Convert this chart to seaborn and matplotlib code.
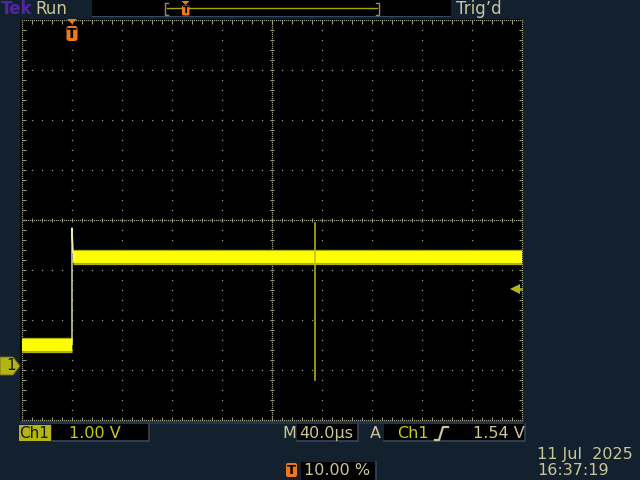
import matplotlib
matplotlib.use("Agg")
import matplotlib.pyplot as plt
import seaborn as sns
import pandas as pd
from matplotlib.transforms import Affine2D, blended_transform_factory
from matplotlib.patches import Polygon, Rectangle, FancyBboxPatch
from matplotlib.lines import Line2D

# ---------------- data ----------------
us_per_div = 40.0          # M 40.0 µs
volts_per_div = 1.0        # Ch1 1.00 V
trig_pos_pct = 10.0        # T 10.00 %
trig_level_v = 1.54        # A Ch1 1.54 V
ground_div_from_bottom = 1.08

# plateau (noisy band) segments
band_seg = ["low", "low", "high", "high"]
band_time_us = [-40.0, 0.0, 0.8, 360.0]
band_volts = [0.43, 0.43, 2.19, 2.19]

# thin transitions: rising edge and glitch
edge_seg = ["edge", "edge", "edge", "edge"]
edge_time_us = [0.0, 0.0, 0.8, 2.0]
edge_volts = [0.43, 2.76, 2.30, 2.19]

glitch_seg = ["glitch", "glitch"]
glitch_time_us = [194.0, 194.0]
glitch_volts = [2.86, -0.28]

ch_label = "Ch1"
ch_scale = "1.00 V"
timebase = "40.0µs"
trig_src = "Ch1"
trig_lvl_txt = "1.54 V"
trig_pos_txt = "10.00 %"
date_txt = "11 Jul  2025"
time_txt = "16:37:19"

# ---------------- colours ----------------
BG = "#13202E"
KHAKI = "#CBC698"
OLIVE = "#B4B414"
YEL_TXT = "#C8C81E"
ORANGE = "#F07818"
GRID = "#9A9A80"
TRACE = "#FFFF00"

fig = plt.figure(figsize=(6.4, 4.8), dpi=100, facecolor=BG)
pix = Affine2D().scale(1 / 640, -1 / 480).translate(0, 1) + fig.transFigure

# graticule black background
fig.patches.append(Rectangle((20, 19), 503, 402, transform=pix, facecolor="black",
                             edgecolor="none", zorder=-2))
fig.patches.append(Rectangle((20, 421), 503, 3, transform=pix, facecolor="#243446",
                             edgecolor="none", zorder=-2))

ax = fig.add_axes([22 / 640, 60 / 480, 500 / 640, 400 / 480])
ax.set_zorder(1)
ax.patch.set_visible(False)
t0 = -trig_pos_pct / 100 * 10 * us_per_div
xmin, xmax = t0, t0 + 10 * us_per_div
ymin = -ground_div_from_bottom * volts_per_div
ymax = ymin + 8 * volts_per_div


def dx(d):
    return xmin + d * us_per_div


def dy(d):
    return ymin + d * volts_per_div


# ---- graticule dots ----
gx, gy = [], []
for i in range(1, 10):
    if i == 5:
        continue
    for k in range(1, 40):
        gx.append(dx(i)); gy.append(dy(k * 0.2))
for j in range(1, 8):
    if j == 4:
        continue
    for k in range(1, 50):
        gx.append(dx(k * 0.2)); gy.append(dy(j))
# center lines & border: dense dots
for k in range(0, 251):
    d = k * 0.04
    for yy in (0, 4, 8):
        gx.append(dx(d)); gy.append(dy(yy))
for k in range(0, 201):
    d = k * 0.04
    for xx in (0, 5, 10):
        gx.append(dx(xx)); gy.append(dy(d))
ax.plot(gx, gy, ls="none", marker="s", ms=0.9, mew=0, color=GRID, zorder=1,
        clip_on=False)

# ticks on center lines and border
tick_kw = dict(color=GRID, lw=0.8, zorder=1, solid_capstyle="butt", clip_on=False)
tx = 0.045  # div
for k in range(1, 50):
    d = k * 0.2
    ax.plot([dx(d), dx(d)], [dy(4 - tx), dy(4 + tx)], **tick_kw)
    ax.plot([dx(d), dx(d)], [dy(0), dy(0.07)], **tick_kw)
    ax.plot([dx(d), dx(d)], [dy(8), dy(8 - 0.07)], **tick_kw)
for k in range(1, 40):
    d = k * 0.2
    ax.plot([dx(5 - tx), dx(5 + tx)], [dy(d), dy(d)], **tick_kw)
    ax.plot([dx(0), dx(0.07)], [dy(d), dy(d)], **tick_kw)
    ax.plot([dx(10), dx(10 - 0.07)], [dy(d), dy(d)], **tick_kw)

# ---- trace ----
band = pd.DataFrame({"t": band_time_us, "v": band_volts, "seg": band_seg})
edge = pd.DataFrame({"t": edge_time_us, "v": edge_volts, "seg": edge_seg})
glitch = pd.DataFrame({"t": glitch_time_us, "v": glitch_volts, "seg": glitch_seg})
sns.lineplot(data=band, x="t", y="v", units="seg", estimator=None, sort=False,
             color="#B0B000", lw=11, ax=ax, legend=False, zorder=3,
             solid_capstyle="butt")
sns.lineplot(data=band, x="t", y="v", units="seg", estimator=None, sort=False,
             color=TRACE, lw=8.5, ax=ax, legend=False, zorder=4,
             solid_capstyle="butt")
sns.lineplot(data=edge, x="t", y="v", units="seg", estimator=None, sort=False,
             color="#EDEDB0", lw=1.0, ax=ax, legend=False, zorder=5)
sns.lineplot(data=glitch, x="t", y="v", units="seg", estimator=None, sort=False,
             color="#BEBE10", lw=1.1, ax=ax, legend=False, zorder=5)
ax.set_xlim(xmin, xmax)
ax.set_ylim(ymin, ymax)
ax.set_axis_off()

# trigger level arrow on right
bt = blended_transform_factory(ax.transAxes, ax.transData)
ax.plot([0.986], [trig_level_v], marker="<", ms=7.5, color=OLIVE, mew=0,
        transform=bt, clip_on=False, zorder=6)
ax.plot([0.986, 1.0], [trig_level_v, trig_level_v], color=OLIVE, lw=1.2,
        transform=bt, clip_on=False, zorder=6)

# ---- ground marker "1" on left ----
gy_px = 420 - ground_div_from_bottom * 50
fig.patches.append(Polygon([(0, gy_px - 9), (13, gy_px - 9), (20, gy_px),
                            (13, gy_px + 9), (0, gy_px + 9)], closed=True,
                           transform=pix, facecolor=OLIVE, edgecolor="#6E6E10",
                           lw=0.6, zorder=5))
fig.text(6 / 640, 1 - gy_px / 480, "1", transform=fig.transFigure, color="#1A1A05",
         fontsize=11, ha="left", va="center", family="DejaVu Sans", zorder=6)

# ---- trigger position marker on graticule ----
tx_px = 22 + trig_pos_pct / 100 * 500
fig.patches.append(Polygon([(tx_px - 5, 19), (tx_px + 5, 19), (tx_px, 24)],
                           transform=pix, facecolor=ORANGE, edgecolor="none", zorder=5))
fig.patches.append(FancyBboxPatch((tx_px - 5.5, 26), 11, 15,
                                  boxstyle="round,pad=0,rounding_size=2.5",
                                  transform=pix, facecolor=ORANGE, edgecolor="none",
                                  zorder=5))
fig.text(tx_px / 640, 1 - 34 / 480, "T", color="black", fontsize=10, weight="bold",
         ha="center", va="center", family="DejaVu Sans", zorder=6)

# ---- top bar ----
fig.patches.append(Rectangle((92, 0), 359, 15.5, transform=pix, facecolor="black",
                             edgecolor="none", zorder=1))
fig.patches.append(Rectangle((92, 15.5), 359, 1.2, transform=pix, facecolor="#3A4A5E",
                             edgecolor="none", zorder=1))
fig.add_artist(Line2D([167, 377], [8, 8], transform=pix, color="#A8A800", lw=1.0))
fig.add_artist(Line2D([168, 165, 165, 168], [3, 3, 15, 15], transform=pix,
                      color="#8C8C78", lw=1.0))
fig.add_artist(Line2D([376, 379, 379, 376], [3, 3, 15, 15], transform=pix,
                      color="#8C8C78", lw=1.0))
fig.patches.append(Polygon([(181.5, 1), (189.5, 1), (185.5, 5)], transform=pix,
                           facecolor=ORANGE, edgecolor="none", zorder=3))
fig.patches.append(FancyBboxPatch((182, 5.5), 7.5, 10, boxstyle="round,pad=0,rounding_size=1.5",
                                  transform=pix, facecolor=ORANGE, edgecolor="none",
                                  zorder=3))
fig.text(185.8 / 640, 1 - 10.5 / 480, "T", color="black", fontsize=6.5, weight="bold",
         ha="center", va="center", family="DejaVu Sans", zorder=4)

fig.text(1 / 640, 1 - 8.5 / 480, "Tek", color="#5226A0", fontsize=12, weight="bold",
         ha="left", va="center", family="DejaVu Sans")
fig.text(35 / 640, 1 - 8.5 / 480, "Run", color=KHAKI, fontsize=12,
         ha="left", va="center", family="DejaVu Sans")
fig.text(456 / 640, 1 - 8.5 / 480, "Trig\u2019d", color=KHAKI, fontsize=12,
         ha="left", va="center", family="DejaVu Sans")

# ---- bottom readouts ----
def box(x0, y0, x1, y1, fc="black"):
    fig.patches.append(Rectangle((x0, y0), x1 - x0, y1 - y0, transform=pix,
                                 facecolor=fc, edgecolor="none", zorder=1))
    if fc == "black":
        fig.add_artist(Line2D([x0, x1, x1], [y1, y1, y0], transform=pix,
                              color="#34465A", lw=1.2))


def txt(x, y, s, c, size=11, **kw):
    fig.text(x / 640, 1 - y / 480, s, color=c, fontsize=size, ha="left",
             va="center", family="DejaVu Sans", zorder=3, **kw)


box(19, 425, 51, 441, fc=OLIVE)
txt(19.5, 433.5, ch_label, "#1A1A05", 11)
box(52, 424, 149, 441)
txt(69, 433.5, ch_scale, YEL_TXT, 11.5)
txt(282, 433.5, "M", KHAKI, 11.5)
box(297, 424, 358, 441)
txt(299, 433.5, timebase, KHAKI, 11.5)
txt(370, 433.5, "A", KHAKI, 11.5)
box(384, 424, 525, 441)
txt(397, 433.5, trig_src, YEL_TXT, 11.5)
fig.add_artist(Line2D([435, 439, 443, 448], [440, 440, 427, 427], transform=pix,
                      color=KHAKI, lw=1.6))
txt(473, 433.5, trig_lvl_txt, KHAKI, 11.5)

fig.patches.append(FancyBboxPatch((286, 463), 11, 14, boxstyle="round,pad=0,rounding_size=2",
                                  transform=pix, facecolor=ORANGE, edgecolor="none",
                                  zorder=2))
fig.text(291.5 / 640, 1 - 470 / 480, "T", color="black", fontsize=9.5, weight="bold",
         ha="center", va="center", family="DejaVu Sans", zorder=3)
box(301, 462, 376, 481)
txt(304, 470.5, trig_pos_txt, KHAKI, 11.5)

txt(537, 454, date_txt, KHAKI, 11.5)
txt(537, 470.5, time_txt, KHAKI, 11.5)

fig.savefig("out.png", dpi=100, facecolor=BG)
